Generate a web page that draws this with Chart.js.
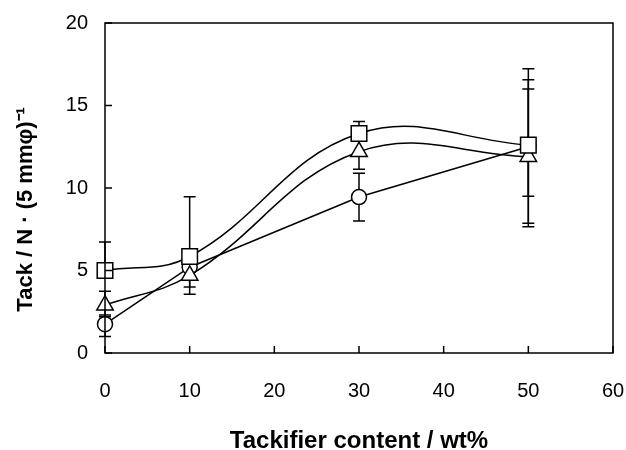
<!DOCTYPE html>
<html><head><meta charset="utf-8">
<script src="https://cdn.jsdelivr.net/npm/chart.js@4"></script>
<style>html,body{margin:0;padding:0;background:#fff}#wrap{width:626px;height:450px}</style>
</head><body><div id="wrap"><canvas id="c" width="626" height="450"></canvas></div>
<script>
const contents = [0, 10, 30, 50];
const squareTack = [5.0, 5.85, 13.3, 12.6];
const squareHigh = [6.72, 9.47, 14.03, 17.22];
const squareLow = [null, null, null, 7.86];
const triangleTack = [2.9, 4.7, 12.2, 11.9];
const triangleHigh = [3.75, null, null, 16.0];
const triangleLow = [2.2, 4.0, 11.13, 7.65];
const circleTack = [1.75, 5.2, 9.45, 12.5];
const circleHigh = [2.3, null, 10.9, 16.56];
const circleLow = [1.0, 3.56, 8.0, 9.5];
const xTicks = [0, 10, 20, 30, 40, 50, 60];
const yTicks = [0, 5, 10, 15, 20];
const xTitle = 'Tackifier content / wt%';
const yTitle = 'Tack / N \u00B7 (5 mm\u03C6)\u207B\u00B9       ';

const FONT = "'Liberation Sans', Arial, sans-serif";
const pts = arr => contents.map((c, i) => ({x: c, y: arr[i]}));
const errSets = [[squareHigh, squareLow], [triangleHigh, triangleLow], [circleHigh, circleLow]];

const framePlugin = {
  id: 'framePlugin',
  beforeDatasetsDraw(chart) {
    const ctx = chart.ctx, xs = chart.scales.x, ys = chart.scales.y;
    ctx.save();
    ctx.strokeStyle = '#000'; ctx.lineWidth = 1.5;
    const vals = [squareTack, triangleTack, circleTack];
    errSets.forEach(([hi, lo], k) => {
      contents.forEach((c, i) => {
        const px = xs.getPixelForValue(c);
        const py = ys.getPixelForValue(vals[k][i]);
        [hi[i], lo[i]].forEach(v => {
          if (v === null) return;
          const e = ys.getPixelForValue(v);
          ctx.beginPath();
          ctx.moveTo(px, py); ctx.lineTo(px, e);
          ctx.moveTo(px - 6, e); ctx.lineTo(px + 6, e);
          ctx.stroke();
        });
      });
    });
    ctx.restore();
  },
  afterDraw(chart) {
    const ctx = chart.ctx, a = chart.chartArea, xs = chart.scales.x, ys = chart.scales.y;
    ctx.save();
    ctx.strokeStyle = '#000'; ctx.lineWidth = 1.5;
    ctx.strokeRect(a.left, a.top, a.right - a.left, a.bottom - a.top);
    ctx.beginPath();
    xTicks.forEach(v => { const p = xs.getPixelForValue(v); ctx.moveTo(p, a.bottom); ctx.lineTo(p, a.bottom - 7); });
    yTicks.forEach(v => { const p = ys.getPixelForValue(v); ctx.moveTo(a.left, p); ctx.lineTo(a.left + 7, p); });
    ctx.stroke();
    ctx.restore();
  }
};

const common = {borderColor: '#000', borderWidth: 1.5, pointBackgroundColor: '#fff', pointBorderColor: '#000', pointBorderWidth: 1.5, fill: false, clip: false};

new Chart(document.getElementById('c'), {
  type: 'line',
  data: {
    datasets: [
      Object.assign({label: 'square', data: pts(squareTack), tension: 0.4, pointStyle: 'rect', pointRadius: 11}, common),
      Object.assign({label: 'triangle', data: pts(triangleTack), tension: 0.4, pointStyle: 'triangle', pointRadius: 9.5}, common),
      Object.assign({label: 'circle', data: pts(circleTack), tension: 0, pointStyle: 'circle', pointRadius: 7.5}, common)
    ]
  },
  options: {
    responsive: false, animation: false,
    layout: {padding: {top: 23, right: 13, left: 0, bottom: 0}},
    plugins: {legend: {display: false}, tooltip: {enabled: false}},
    scales: {
      x: {
        type: 'linear', min: xTicks[0], max: xTicks[xTicks.length - 1],
        afterBuildTicks(s) { s.ticks = xTicks.map(v => ({value: v})); },
        grid: {display: false, drawTicks: false}, border: {display: false},
        ticks: {padding: 26, color: '#000', font: {family: FONT, size: 20}},
        title: {display: true, text: xTitle, color: '#000', padding: {top: 0, bottom: -3}, font: {family: FONT, size: 24, weight: 'bold', lineHeight: 1}},
        afterFit(s) { s.height = 97; s.paddingLeft = 0; s.paddingRight = 0; }
      },
      y: {
        min: yTicks[0], max: yTicks[yTicks.length - 1],
        afterBuildTicks(s) { s.ticks = yTicks.map(v => ({value: v})); },
        grid: {display: false, drawTicks: false}, border: {display: false},
        ticks: {padding: 17, color: '#000', font: {family: FONT, size: 20}},
        title: {display: true, text: yTitle, color: '#000', padding: {top: 13, bottom: 0}, font: {family: FONT, size: 22, weight: 'bold', lineHeight: 1.2}},
        afterFit(s) { s.width = 105; s.paddingTop = 0; s.paddingBottom = 0; }
      }
    }
  },
  plugins: [framePlugin]
});
</script></body></html>
